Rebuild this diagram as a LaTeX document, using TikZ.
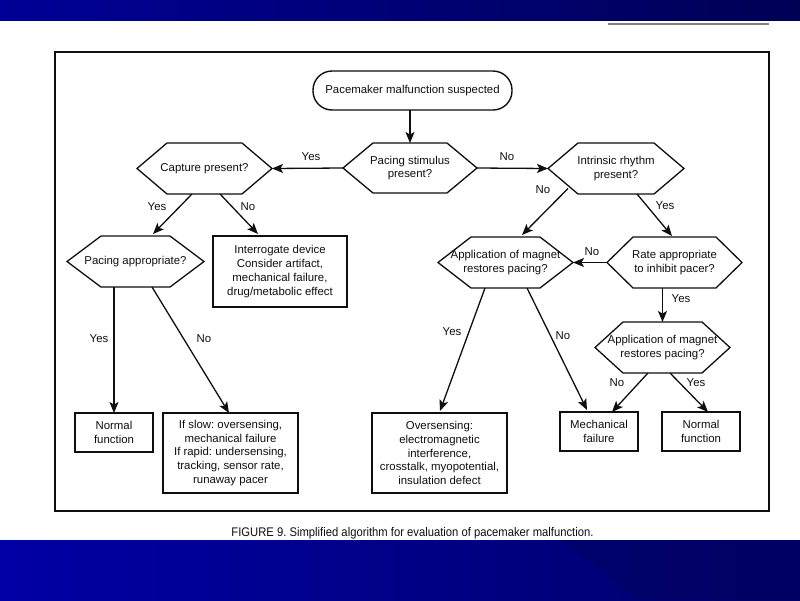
\documentclass[tikz,border=0pt]{standalone}
\usepackage{fontspec}
\setmainfont{Liberation Sans}
\newfontfamily\capfont[FakeStretch=0.9]{Liberation Sans}
\usetikzlibrary{arrows.meta,calc}
\frenchspacing
\definecolor{ink}{RGB}{15,15,15}
\definecolor{bandA}{RGB}{0,0,150}
\definecolor{bandB}{RGB}{0,10,185}
\definecolor{bandC}{RGB}{0,0,85}
\definecolor{bandD}{RGB}{0,0,165}
\definecolor{bandE}{RGB}{0,0,105}
\tikzset{
  txt/.style={font=\fontsize{11.4}{13.7}\selectfont\frenchspacing, text=ink, align=center},
  hexbox/.style={txt, inner sep=0pt, outer sep=0pt},
  hexline/.style={draw=ink, line width=1.3pt, line join=miter},
  boxnode/.style={txt, draw=ink, line width=1.4pt, inner sep=0pt, outer sep=0pt},
  conn/.style={draw=ink, line width=1.3pt, -{Stealth[length=11pt,width=9pt,inset=2.5pt]}},
  lbl/.style={txt, inner sep=0pt},
}
\newcommand{\hexnode}[6]{%
  \node[hexbox, minimum width=#3, minimum height=#4] (#1) at (#2) {#6};
  \draw[hexline] (#1.west) -- ([xshift=#5]#1.north west) -- ([xshift=-#5]#1.north east)
    -- (#1.east) -- ([xshift=-#5]#1.south east) -- ([xshift=#5]#1.south west) -- cycle;}
\begin{document}
\begin{tikzpicture}[x=1pt,y=-1pt]
\useasboundingbox (0,0) rectangle (800,600);
\fill[white] (0,0) rectangle (800,600);
% bands
\shade[left color=bandA, middle color=bandB, right color=bandC] (0,0) rectangle (800,20);
\shade[left color=bandD, middle color=bandA, right color=bandE] (0,540) rectangle (800,600);
\fill[bandC, opacity=0.35] (560,540) -- (800,540) -- (800,600) -- (640,600) -- cycle;
% top-right rule
\draw[gray, line width=1.6pt] (608,24) -- (769,24);
% frame
\draw[ink, line width=1.4pt] (55,52) rectangle (769,511);
% start
\node[boxnode, rounded corners=19pt, minimum width=199pt, minimum height=39pt] (start) at (412.5,90.5) {Pacemaker malfunction suspected};
% hexagons
\hexnode{pac}{410,168}{134pt}{50pt}{30pt}{Pacing stimulus\\present?}
\hexnode{cap}{204.5,168.5}{135pt}{51pt}{30pt}{Capture present?}
\hexnode{intr}{616,168.5}{136pt}{51pt}{30pt}{Intrinsic rhythm\\present?}
\hexnode{papp}{135.5,261.5}{137pt}{51pt}{34pt}{Pacing appropriate?}
\hexnode{app1}{505.5,262.5}{135pt}{51pt}{33pt}{Application of magnet\\restores pacing?}
\hexnode{rate}{674.5,262.5}{135pt}{51pt}{26pt}{Rate appropriate\\to inhibit pacer?}
\hexnode{app2}{662.5,347.5}{135pt}{51pt}{28pt}{Application of magnet\\restores pacing?}
% boxes
\node[boxnode, minimum width=134pt, minimum height=71pt] (intg) at (280,271.5) {Interrogate device\\Consider artifact,\\mechanical failure,\\drug/metabolic effect};
\node[boxnode, minimum width=78pt, minimum height=39pt] (nf1) at (114,432.5) {Normal\\function};
\node[boxnode, minimum width=135pt, minimum height=80pt] (slow) at (230.5,453) {If slow: oversensing,\\mechanical failure\\If rapid: undersensing,\\tracking, sensor rate,\\runaway pacer};
\node[boxnode, minimum width=135pt, minimum height=80pt] (over) at (439.5,453) {Oversensing:\\electromagnetic\\interference,\\crosstalk, myopotential,\\insulation defect};
\node[boxnode, minimum width=78pt, minimum height=39pt] (mech) at (599,431.5) {Mechanical\\failure};
\node[boxnode, minimum width=78pt, minimum height=39pt] (nf2) at (701,431.5) {Normal\\function};
% connectors
\draw[conn] (start.south -| pac.north) -- (pac.north);
\draw[conn] (pac.west) -- (cap.east);
\draw[conn] (pac.east) -- (intr.west);
\draw[conn] ($(cap.south)+(-12.5,0)$) -- ($(papp.north)+(17.5,-2)$);
\draw[conn] ($(cap.south)+(15.5,0)$) -- ($(intg.north)+(-22,-2)$);
\draw[conn] (papp.south -| nf1.north) -- (nf1.north);
\draw[conn] ($(papp.south)+(16.5,0)$) -- ($(slow.north)+(-1.5,0)$);
\draw[conn] ($(intr.center)+(-48,20)$) -- ($(app1.north)+(16.5,-2)$);
\draw[conn] ($(intr.south)+(21,0)$) -- ($(rate.north)+(-2.5,-1)$);
\draw[conn] (rate.west) -- (app1.east);
\draw[conn] (rate.south -| app2.north) -- (app2.north);
\draw[conn] ($(app2.south)+(-14.5,0)$) -- ($(mech.north)+(13,0)$);
\draw[conn] ($(app2.south)+(7.5,0)$) -- ($(nf2.north)+(7,0)$);
\draw[conn] ($(app1.south)+(-20.5,0)$) -- ($(over.north)+(0.5,-2)$);
\draw[conn] ($(app1.south)+(21.5,0)$) -- ($(mech.north)+(-12,-2)$);
% labels
\node[lbl] (l1) at (311,157) {Yes};
\node[lbl] (l2) at (507,157) {No};
\node[lbl] (l3) at (157,207) {Yes};
\node[lbl] (l4) at (248,207) {No};
\node[lbl] (l5) at (99,339) {Yes};
\node[lbl] (l6) at (204,339) {No};
\node[lbl] (l7) at (543,190) {No};
\node[lbl] (l8) at (665,206) {Yes};
\node[lbl] (l9) at (592,252) {No};
\node[lbl] (l10) at (681,299) {Yes};
\node[lbl] (l11) at (617,383) {No};
\node[lbl] (l12) at (696,383) {Yes};
\node[lbl] (l13) at (452,332) {Yes};
\node[lbl] (l14) at (563,336) {No};
% caption
\node[inner sep=0pt, text=ink, font=\capfont\fontsize{12.5}{14}\selectfont\frenchspacing] (cap9) at (412.5,533) {FIGURE 9. Simplified algorithm for evaluation of pacemaker malfunction.};
\end{tikzpicture}
\end{document}
